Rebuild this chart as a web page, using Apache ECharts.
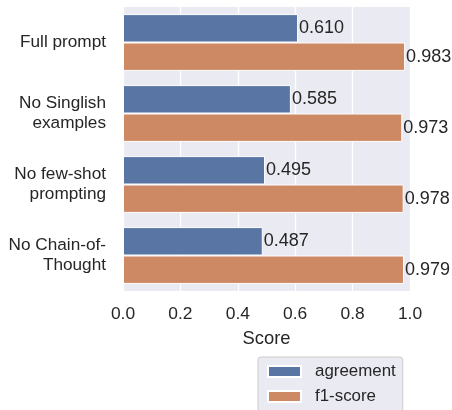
<!DOCTYPE html>
<html>
<head>
<meta charset="utf-8">
<script src="https://cdn.jsdelivr.net/npm/echarts@6/dist/echarts.min.js"></script>
<style>html,body{margin:0;padding:0;background:#fff;}#c{width:452px;height:410px;}</style>
</head>
<body>
<div id="c"></div>
<script>
const categories = ["Full prompt", "No Singlish\nexamples", "No few-shot\nprompting", "No Chain-of-\nThought"];
const agreement = [0.610, 0.585, 0.495, 0.487];
const f1score = [0.983, 0.973, 0.978, 0.979];
const xTicks = [0.0, 0.2, 0.4, 0.6, 0.8, 1.0];

const FONT = "Liberation Sans, Arial, sans-serif";
const TXT = "#262626";
const chart = echarts.init(document.getElementById('c'));
const labelCfg = {
  show: true, position: 'right', distance: 1,
  formatter: p => p.value.toFixed(3),
  color: TXT, fontFamily: FONT, fontSize: 18
};
chart.setOption({
  animation: false,
  backgroundColor: '#fff',
  grid: { left: 123, right: 42, top: 7, bottom: 119, show: true, backgroundColor: '#EAEAF2', borderWidth: 0 },
  xAxis: {
    type: 'value', min: 0, max: 1, interval: 0.2,
    name: 'Score', nameLocation: 'middle', nameGap: 39,
    nameTextStyle: { color: TXT, fontFamily: FONT, fontSize: 18.4 },
    axisLine: { show: false }, axisTick: { show: false },
    axisLabel: { color: TXT, fontFamily: FONT, fontSize: 17.4, margin: 15, formatter: v => v.toFixed(1) },
    splitLine: { show: true, lineStyle: { color: '#fff', width: 1.3 } }
  },
  yAxis: {
    type: 'category', data: categories, inverse: true,
    axisLine: { show: false }, axisTick: { show: false },
    axisLabel: { color: TXT, fontFamily: FONT, fontSize: 17.2, lineHeight: 20, align: 'right', margin: 17 },
    splitLine: { show: false }
  },
  legend: {
    orient: 'vertical', left: 258, top: 357, height: 120,
    data: ['agreement', 'f1-score'],
    backgroundColor: '#EAEAF2', borderColor: '#CCCCCC', borderWidth: 1, borderRadius: 3,
    padding: [6, 7, 9, 9],
    itemWidth: 33, itemHeight: 11, itemGap: 8,
    textStyle: { color: TXT, fontFamily: FONT, fontSize: 16.9, lineHeight: 16, padding: [0, 0, 0, 9] },
    icon: 'rect'
  },
  series: [
    { name: 'agreement', type: 'bar', data: agreement, barGap: '0%', barCategoryGap: '20%',
      itemStyle: { color: '#5975A4', borderColor: '#fff', borderWidth: 1 }, label: labelCfg },
    { name: 'f1-score', type: 'bar', data: f1score, barGap: '0%', barCategoryGap: '20%',
      itemStyle: { color: '#CC8963', borderColor: '#fff', borderWidth: 1 }, label: labelCfg }
  ]
});
</script>
</body>
</html>
